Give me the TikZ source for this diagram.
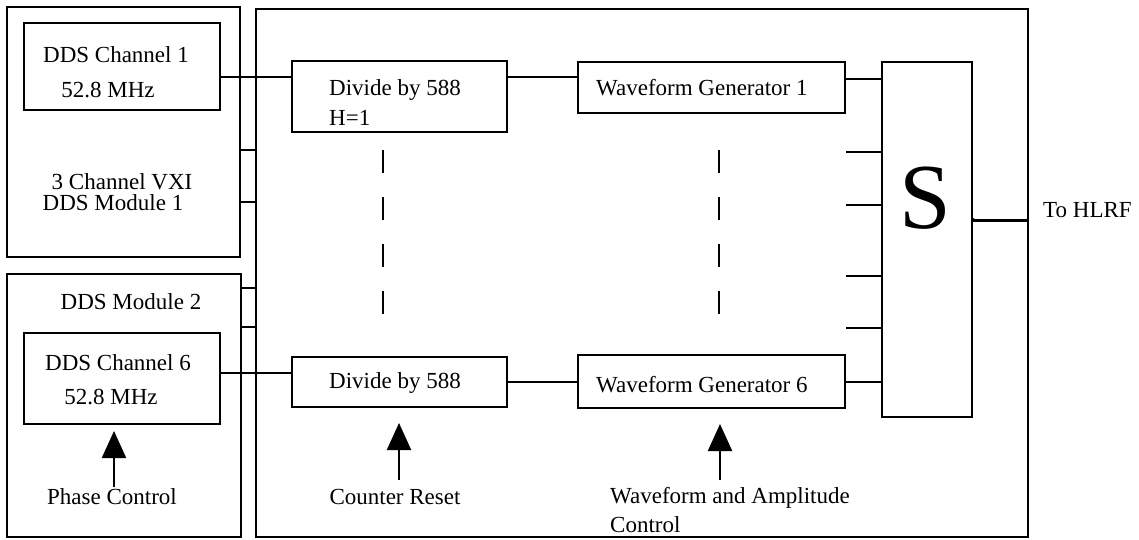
\documentclass[tikz,border=0pt]{standalone}
\usepackage{fontspec}
\setmainfont{Liberation Serif}
\usetikzlibrary{arrows.meta}
\tikzset{
  box/.style={draw, line width=2pt, inner sep=0pt, minimum width=#1},
  lbl/.style={inner sep=0pt, font=\fontsize{23}{25}\selectfont},
  wire/.style={line width=2pt},
  ctl/.style={line width=2.2pt, -{Triangle[width=24pt,length=27pt]}},
  dots/.style={line width=2.4pt, dash pattern=on 23pt off 24pt},
}
\begin{document}
\begin{tikzpicture}[x=1pt,y=-1pt]
\useasboundingbox (0,0) rectangle (1139,540);
% boxes
\node[box=233pt, minimum height=250pt] (mod1) at (123.5,132) {};
\node[box=196pt, minimum height=87pt] (ch1) at (122,66.5) {};
\node[box=234pt, minimum height=263pt] (mod2) at (124,405.5) {};
\node[box=196pt, minimum height=91pt] (ch6) at (122,378.5) {};
\node[box=772pt, minimum height=528pt] (big) at (642,273) {};
\node[box=215pt, minimum height=71pt] (div1) at (399.5,96.5) {};
\node[box=215pt, minimum height=50pt] (div2) at (399.5,382) {};
\node[box=267pt, minimum height=51pt] (wg1) at (711.5,87.5) {};
\node[box=267pt, minimum height=53pt] (wg6) at (711.5,381.5) {};
\node[box=90pt, minimum height=355pt] (S) at (927,239.5) {};
% texts
\node[lbl] (t1) at (116,55) {DDS Channel 1};
\node[lbl] (t2) at (108,90) {52.8 MHz};
\node[lbl] (t3) at (122,182) {3 Channel VXI};
\node[lbl] (t4) at (113,203) {DDS Module 1};
\node[lbl] (t5) at (131,302) {DDS Module 2};
\node[lbl] (t6) at (118,363) {DDS Channel 6};
\node[lbl] (t7) at (111,397) {52.8 MHz};
\node[lbl] (t8) at (112,497) {Phase Control};
\node[lbl, anchor=west] (t9) at (329,90) {Divide by 588};
\node[lbl, anchor=west] (t10) at (329,118) {H=1};
\node[lbl, anchor=west] (t11) at (329,383) {Divide by 588};
\node[lbl, anchor=west] (t12) at (596,88) {Waveform Generator 1};
\node[lbl, anchor=west] (t13) at (596,385) {Waveform Generator 6};
\node[lbl] (t14) at (395,497) {Counter Reset};
\node[lbl, anchor=west] (t15) at (610,498) {Waveform and Amplitude};
\node[lbl, anchor=west] (t16) at (610,525) {Control};
\node[lbl, anchor=west] (t17) at (1043,210) {To HLRF};
\node[inner sep=0pt, font=\fontsize{93}{93}\selectfont] (Sl) at (925,198) {S};
% connections
\draw[wire] (ch1.east |- 0,77) -- (div1.west |- 0,77);
\draw[wire] (div1.east |- 0,77) -- (wg1.west |- 0,77);
\draw[wire] (wg1.east |- 0,79) -- (S.west |- 0,79);
\draw[wire] (ch6.east |- 0,373) -- (div2.west |- 0,373);
\draw[wire] (div2.east |- 0,382) -- (wg6.west |- 0,382);
\draw[wire] (wg6.east |- 0,382) -- (S.west |- 0,382);
\draw[wire] (mod1.east |- 0,150) -- (big.west |- 0,150);
\draw[wire] (mod1.east |- 0,202) -- (big.west |- 0,202);
\draw[wire] (mod2.east |- 0,288) -- (big.west |- 0,288);
\draw[wire] (mod2.east |- 0,327) -- (big.west |- 0,327);
\foreach \yy/\nm in {152/a,205/b,276/c,328/d}{
  \coordinate (stub\nm) at (846,\yy);
  \draw[wire] (stub\nm) -- (S.west |- stub\nm);
}
\draw[line width=3pt] (S.east |- 0,220) -- (big.east |- 0,220);
\fill (S.east |- 0,220) circle (2pt);
% control arrows
\coordinate (pcs) at (114,487);
\draw[ctl, shorten >=6pt] (pcs) -- (ch6.south -| pcs);
\coordinate (crs) at (399,480);
\draw[ctl, shorten >=15pt] (crs) -- (div2.south -| crs);
\coordinate (wgs) at (720,480);
\draw[ctl, shorten >=15pt] (wgs) -- (wg6.south -| wgs);
% dashed continuation
\draw[dots] (383,150) -- (383,316);
\draw[dots] (719,150) -- (719,316);
\end{tikzpicture}
\end{document}
